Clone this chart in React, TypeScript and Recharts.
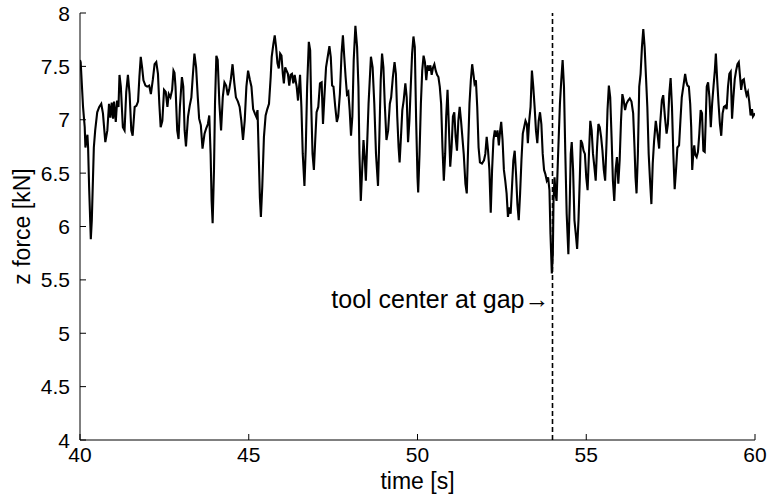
import React from "react";
import { LineChart, Line, XAxis, YAxis, ReferenceLine, ReferenceDot } from "recharts";

// z force trace, time in seconds, force in kN
const timeS = [
  40.0, 40.02, 40.09, 40.14, 40.16, 40.22, 40.24, 40.27, 40.32, 40.35, 40.41, 40.45, 40.51, 40.57, 40.63,
  40.68, 40.75, 40.81, 40.86, 40.9, 40.94, 40.98, 41.01, 41.06, 41.1, 41.14, 41.17, 41.21, 41.27, 41.32,
  41.37, 41.42, 41.47, 41.52, 41.56, 41.62, 41.67, 41.72, 41.76, 41.8, 41.84, 41.88, 41.94, 41.99, 42.05,
  42.1, 42.16, 42.21, 42.26, 42.31, 42.35, 42.39, 42.44, 42.49, 42.54, 42.59, 42.63, 42.68, 42.73, 42.77,
  42.8, 42.83, 42.88, 42.92, 42.96, 43.02, 43.06, 43.1, 43.14, 43.2, 43.25, 43.3, 43.34, 43.39, 43.44,
  43.49, 43.53, 43.58, 43.63, 43.69, 43.74, 43.79, 43.83, 43.87, 43.9, 43.93, 43.97, 44.0, 44.04, 44.08,
  44.13, 44.18, 44.23, 44.28, 44.33, 44.38, 44.42, 44.47, 44.52, 44.57, 44.62, 44.68, 44.73, 44.78, 44.83,
  44.88, 44.93, 44.98, 45.03, 45.08, 45.13, 45.18, 45.22, 45.26, 45.29, 45.33, 45.36, 45.4, 45.45, 45.5,
  45.55, 45.6, 45.65, 45.68, 45.73, 45.77, 45.81, 45.85, 45.89, 45.93, 45.97, 46.01, 46.04, 46.08, 46.12,
  46.16, 46.2, 46.24, 46.28, 46.32, 46.36, 46.42, 46.46, 46.52, 46.56, 46.6, 46.65, 46.69, 46.73, 46.78,
  46.82, 46.85, 46.89, 46.93, 46.97, 47.01, 47.06, 47.11, 47.16, 47.2, 47.24, 47.29, 47.34, 47.39, 47.43,
  47.47, 47.51, 47.56, 47.61, 47.65, 47.7, 47.75, 47.79, 47.83, 47.87, 47.91, 47.95, 47.99, 48.03, 48.07,
  48.11, 48.16, 48.21, 48.25, 48.28, 48.32, 48.36, 48.4, 48.44, 48.47, 48.55, 48.62, 48.67, 48.72, 48.77,
  48.83, 48.87, 48.91, 48.95, 48.99, 49.03, 49.08, 49.13, 49.18, 49.22, 49.27, 49.32, 49.36, 49.4, 49.44,
  49.47, 49.51, 49.55, 49.59, 49.64, 49.68, 49.72, 49.76, 49.8, 49.84, 49.88, 49.92, 49.96, 50.0, 50.02,
  50.06, 50.1, 50.14, 50.18, 50.22, 50.26, 50.3, 50.34, 50.38, 50.42, 50.46, 50.5, 50.54, 50.58, 50.62,
  50.66, 50.7, 50.74, 50.78, 50.82, 50.85, 50.89, 50.93, 50.97, 51.01, 51.05, 51.09, 51.13, 51.17, 51.21,
  51.25, 51.29, 51.37, 51.42, 51.46, 51.5, 51.54, 51.58, 51.62, 51.66, 51.69, 51.73, 51.77, 51.81, 51.85,
  51.91, 51.97, 52.01, 52.05, 52.09, 52.13, 52.17, 52.21, 52.25, 52.29, 52.33, 52.37, 52.41, 52.45, 52.48,
  52.52, 52.56, 52.6, 52.64, 52.68, 52.72, 52.76, 52.8, 52.84, 52.88, 52.92, 52.96, 53.0, 53.04, 53.08,
  53.12, 53.16, 53.2, 53.24, 53.27, 53.31, 53.35, 53.39, 53.43, 53.47, 53.51, 53.55, 53.59, 53.63, 53.67,
  53.71, 53.75, 53.79, 53.83, 53.87, 53.91, 53.94, 53.98, 54.01, 54.03, 54.06, 54.09, 54.12, 54.16, 54.22,
  54.26, 54.3, 54.34, 54.38, 54.42, 54.47, 54.51, 54.54, 54.57, 54.61, 54.65, 54.69, 54.73, 54.77, 54.81,
  54.84, 54.88, 54.92, 54.96, 55.0, 55.04, 55.08, 55.12, 55.16, 55.2, 55.24, 55.28, 55.32, 55.36, 55.4,
  55.44, 55.48, 55.52, 55.56, 55.6, 55.63, 55.67, 55.71, 55.75, 55.79, 55.83, 55.87, 55.91, 55.95, 55.99,
  56.03, 56.07, 56.11, 56.15, 56.19, 56.24, 56.29, 56.34, 56.39, 56.43, 56.46, 56.49, 56.53, 56.57, 56.61,
  56.65, 56.69, 56.73, 56.77, 56.81, 56.85, 56.89, 56.93, 56.97, 57.01, 57.06, 57.11, 57.16, 57.19, 57.24,
  57.28, 57.33, 57.38, 57.42, 57.46, 57.5, 57.54, 57.58, 57.62, 57.66, 57.7, 57.75, 57.79, 57.83, 57.88,
  57.93, 57.97, 58.0, 58.04, 58.08, 58.11, 58.14, 58.17, 58.2, 58.23, 58.27, 58.31, 58.35, 58.39, 58.43,
  58.47, 58.51, 58.54, 58.57, 58.61, 58.65, 58.69, 58.73, 58.77, 58.81, 58.84, 58.88, 58.92, 58.96, 59.0,
  59.04, 59.08, 59.12, 59.16, 59.2, 59.24, 59.28, 59.32, 59.36, 59.4, 59.44, 59.48, 59.52, 59.55, 59.59,
  59.63, 59.67, 59.71, 59.75, 59.79, 59.83, 59.87, 59.91, 59.94, 60.0,
];

const forceKN = [
  7.56, 7.54, 7.12, 6.93, 6.74, 6.86, 6.74, 6.37, 5.88, 6.06, 6.74, 6.9, 7.07, 7.12, 7.15,
  7.06, 6.79, 6.9, 7.15, 7.02, 7.16, 7.01, 7.17, 6.98, 7.18, 7.12, 7.42, 7.31, 6.93, 6.9,
  7.26, 7.42, 7.24, 6.9, 6.85, 7.12, 7.13, 7.17, 7.4, 7.59, 7.49, 7.37, 7.32, 7.31, 7.32,
  7.24, 7.38, 7.52, 7.54, 7.43, 7.15, 6.93, 6.99, 7.28, 7.26, 7.12, 7.24, 7.21, 7.28, 7.46,
  7.44, 7.31, 6.9, 6.82, 7.12, 7.4, 7.31, 6.9, 6.75, 7.03, 7.13, 7.21, 7.4, 7.62, 7.49,
  7.21, 7.01, 6.95, 6.73, 6.87, 6.92, 6.96, 7.04, 6.68, 6.24, 6.03, 6.53, 7.15, 7.6, 7.56,
  7.15, 6.9, 7.21, 7.35, 7.32, 7.23, 7.28, 7.38, 7.52, 7.35, 7.21, 7.17, 7.12, 6.99, 6.81,
  6.99, 7.31, 7.46, 7.38, 7.31, 7.1, 7.06, 7.03, 7.09, 6.74, 6.27, 6.09, 6.37, 6.84, 7.04,
  7.1, 7.15, 7.4, 7.59, 7.71, 7.79, 7.68, 7.53, 7.48, 7.62, 7.6, 7.43, 7.34, 7.49, 7.46,
  7.43, 7.32, 7.42, 7.43, 7.34, 7.42, 7.31, 7.18, 7.42, 7.12, 6.68, 6.38, 6.74, 7.31, 7.73,
  7.65, 7.15, 6.68, 6.53, 6.81, 7.07, 7.12, 7.34, 7.35, 6.96, 7.21, 7.49, 7.59, 7.69, 7.59,
  7.32, 7.31, 7.13, 6.98, 7.03, 7.24, 7.62, 7.79, 7.59, 7.4, 7.24, 7.26, 7.09, 6.85, 7.03,
  7.56, 7.88, 7.68, 7.31, 6.68, 6.24, 6.53, 6.81, 6.62, 6.43, 7.15, 7.59, 7.49, 7.15, 6.68,
  6.38, 6.84, 7.37, 7.62, 7.49, 7.15, 6.81, 6.9, 7.15, 7.21, 7.4, 7.54, 7.43, 7.03, 6.74,
  6.6, 6.84, 7.09, 7.18, 7.34, 7.21, 6.79, 6.99, 7.31, 7.62, 7.78, 7.68, 6.99, 6.46, 6.32,
  6.68, 7.15, 7.46, 7.6, 7.54, 7.37, 7.51, 7.46, 7.51, 7.42, 7.49, 7.52, 7.46, 7.42, 7.4,
  7.31, 7.15, 6.74, 6.43, 6.68, 7.03, 7.28, 6.93, 6.56, 6.74, 7.03, 7.07, 6.84, 6.71, 6.99,
  7.12, 6.99, 6.68, 6.4, 6.31, 6.74, 7.15, 7.37, 7.52, 7.42, 7.34, 7.37, 7.12, 6.74, 6.6,
  6.59, 6.62, 6.68, 6.84, 6.71, 6.53, 6.13, 6.53, 6.81, 6.9, 6.84, 6.9, 6.76, 6.9, 6.98,
  6.81, 6.53, 6.43, 6.31, 6.09, 6.18, 6.12, 6.37, 6.62, 6.71, 6.49, 6.21, 6.06, 6.31, 6.62,
  6.87, 6.93, 6.99, 6.96, 6.78, 6.99, 7.12, 7.46, 7.31, 7.12, 6.9, 6.78, 6.99, 7.07, 6.96,
  6.68, 6.53, 6.49, 6.43, 6.46, 6.34, 5.93, 5.56, 5.74, 6.24, 6.46, 6.31, 6.24, 6.62, 7.15,
  7.37, 7.56, 7.31, 6.68, 6.12, 5.74, 6.21, 6.68, 6.79, 6.53, 6.06, 5.93, 5.79, 6.06, 6.46,
  6.81, 6.78, 6.71, 6.68, 6.46, 6.34, 6.68, 6.99, 6.9, 6.68, 6.56, 6.43, 6.74, 6.96, 6.93,
  6.84, 6.71, 6.53, 6.43, 6.78, 7.09, 7.32, 7.21, 6.84, 6.43, 6.24, 6.53, 6.65, 6.4, 6.62,
  6.99, 7.24, 7.18, 7.09, 7.15, 7.18, 7.2, 7.17, 7.06, 6.74, 6.46, 6.31, 6.68, 7.31, 7.43,
  7.68, 7.85, 7.68, 7.4, 7.12, 6.68, 6.43, 6.21, 6.59, 6.8, 6.99, 6.87, 6.73, 6.96, 7.18,
  7.23, 7.03, 6.87, 6.96, 7.24, 7.39, 7.12, 6.68, 6.35, 6.53, 6.74, 6.76, 6.99, 7.21, 7.32,
  7.43, 7.35, 7.32, 7.31, 7.15, 6.93, 6.53, 6.68, 6.76, 6.67, 6.65, 6.7, 6.87, 7.09, 7.06,
  6.71, 6.7, 6.99, 7.31, 7.35, 7.21, 6.93, 7.15, 7.31, 7.46, 7.62, 7.37, 7.15, 6.96, 6.85,
  7.06, 7.12, 7.13, 7.1, 7.31, 7.43, 7.45, 7.01, 7.21, 7.38, 7.46, 7.52, 7.54, 7.43, 7.28,
  7.37, 7.38, 7.29, 7.23, 7.26, 7.17, 7.04, 7.1, 7.03, 7.06,
];

const timeTicks = [40, 45, 50, 55, 60];
const forceTicks = [4, 4.5, 5, 5.5, 6, 6.5, 7, 7.5, 8];

const gapTime = 54;
const gapLabelForce = 5.32;
const gapLabel = "tool center at gap\u2192";

const data = timeS.map((t, i) => ({ t, z: forceKN[i] }));

const FONT = "'Liberation Sans', Arial, Helvetica, sans-serif";
const TICK_FONT = 21;
const TITLE_FONT = 23;
const NOTE_FONT = 25;
const TICK_LEN = 6;

// matlab style: ticks point into the box, labels sit outside
const BottomTick = ({ x, y, payload }: any) => (
  <g>
    <line x1={x} y1={y} x2={x} y2={y - TICK_LEN} stroke="#000" />
    <text x={x} y={y + 22} textAnchor="middle" fontFamily={FONT} fontSize={TICK_FONT} fill="#000">
      {payload.value}
    </text>
  </g>
);

const TopTick = ({ x, y }: any) => <line x1={x} y1={y} x2={x} y2={y + TICK_LEN} stroke="#000" />;

const LeftTick = ({ x, y, payload }: any) => (
  <g>
    <line x1={x} y1={y} x2={x + TICK_LEN} y2={y} stroke="#000" />
    <text x={x - 10} y={y + 7.5} textAnchor="end" fontFamily={FONT} fontSize={TICK_FONT} fill="#000">
      {payload.value}
    </text>
  </g>
);

const RightTick = ({ x, y }: any) => <line x1={x} y1={y} x2={x - TICK_LEN} y2={y} stroke="#000" />;

const YTitle = ({ viewBox }: any) => {
  const cx = viewBox.x + 22;
  const cy = viewBox.y + viewBox.height / 2;
  return (
    <text
      x={cx}
      y={cy}
      transform={`rotate(-90, ${cx}, ${cy})`}
      textAnchor="middle"
      dominantBaseline="central"
      fontFamily={FONT}
      fontSize={TITLE_FONT}
      fill="#000"
    >
      z force [kN]
    </text>
  );
};

const XTitle = ({ viewBox }: any) => (
  <text
    x={viewBox.x + viewBox.width / 2}
    y={viewBox.y + 49}
    textAnchor="middle"
    fontFamily={FONT}
    fontSize={TITLE_FONT}
    fill="#000"
  >
    time [s]
  </text>
);

export default function App() {
  return (
    <div style={{ position: "absolute", left: 0, top: 0, background: "#fff" }}>
      <LineChart width={767} height={500} data={data} margin={{ top: 13, right: 12, bottom: 0, left: 0 }}>
        <XAxis
          xAxisId="time"
          dataKey="t"
          type="number"
          domain={[40, 60]}
          allowDataOverflow
          ticks={timeTicks}
          interval={0}
          height={60}
          tickSize={0}
          tickMargin={0}
          tickLine={false}
          axisLine={{ stroke: "#000" }}
          tick={<BottomTick />}
          label={<XTitle />}
        />
        <XAxis
          xAxisId="top"
          dataKey="t"
          type="number"
          orientation="top"
          domain={[40, 60]}
          allowDataOverflow
          ticks={timeTicks}
          interval={0}
          height={0}
          tickSize={0}
          tickMargin={0}
          tickLine={false}
          axisLine={{ stroke: "#000" }}
          tick={<TopTick />}
        />
        <YAxis
          yAxisId="force"
          type="number"
          domain={[4, 8]}
          allowDataOverflow
          ticks={forceTicks}
          interval={0}
          width={80}
          tickSize={0}
          tickMargin={0}
          tickLine={false}
          axisLine={{ stroke: "#000" }}
          tick={<LeftTick />}
          label={<YTitle />}
        />
        <YAxis
          yAxisId="right"
          type="number"
          orientation="right"
          domain={[4, 8]}
          allowDataOverflow
          ticks={forceTicks}
          interval={0}
          width={0}
          tickSize={0}
          tickMargin={0}
          tickLine={false}
          axisLine={{ stroke: "#000" }}
          tick={<RightTick />}
        />
        <ReferenceLine
          xAxisId="time"
          yAxisId="force"
          x={gapTime}
          stroke="#000"
          strokeWidth={1.6}
          strokeDasharray="5 3"
        />
        <ReferenceDot
          xAxisId="time"
          yAxisId="force"
          x={gapTime}
          y={gapLabelForce}
          r={0}
          stroke="none"
          fill="none"
          label={{
            value: gapLabel,
            position: "left",
            offset: 3,
            fontFamily: FONT,
            fontSize: NOTE_FONT,
            fill: "#000",
          }}
        />
        <Line
          xAxisId="time"
          yAxisId="force"
          type="linear"
          dataKey="z"
          stroke="#000"
          strokeWidth={2.1}
          dot={false}
          isAnimationActive={false}
        />
      </LineChart>
    </div>
  );
}
